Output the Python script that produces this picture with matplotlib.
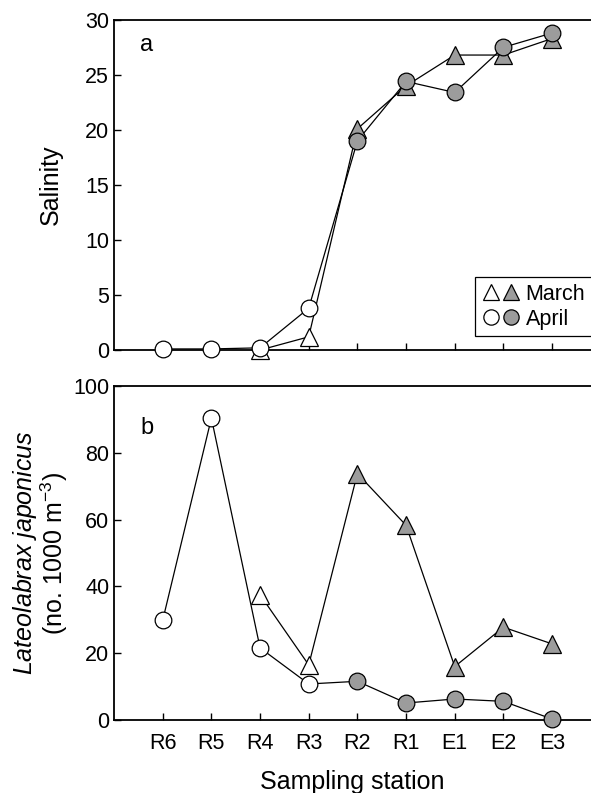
import numpy as np
import matplotlib
matplotlib.use("Agg")
import matplotlib.pyplot as plt
from matplotlib.lines import Line2D
from matplotlib.legend_handler import HandlerTuple

plt.rcParams['font.family'] = ['Liberation Sans', 'DejaVu Sans']
plt.rcParams['mathtext.fontset'] = 'custom'
plt.rcParams['mathtext.rm'] = 'Liberation Sans'
plt.rcParams['mathtext.it'] = 'Liberation Sans:italic'

# stations along the estuary (upstream -> sea)
stations = ["R6", "R5", "R4", "R3", "R2", "R1", "E1", "E2", "E3"]
open_stations = ["R6", "R5", "R4", "R3"]   # drawn with open symbols

# March sampled R4..E3, April R6..E3
march_stations = ["R4", "R3", "R2", "R1", "E1", "E2", "E3"]
april_stations = stations

march_salinity = [0.0, 1.2, 20.1, 24.0, 26.8, 26.8, 28.3]
april_salinity = [0.1, 0.1, 0.2, 3.8, 19.0, 24.4, 23.4, 27.5, 28.8]

march_density = [37.5, 16.5, 73.8, 58.3, 16.0, 27.8, 22.8]
april_density = [29.9, 90.4, 21.6, 10.8, 11.6, 5.1, 6.3, 5.6, 0.3]

gray = "#9c9c9c"


def draw_series(ax, names, values, marker, ms):
    x = np.array([stations.index(n) for n in names])
    y = np.array(values)
    is_open = np.array([n in open_stations for n in names])
    ax.plot(x, y, '-', color='black', lw=0.9, zorder=2, clip_on=False)
    ax.plot(x[is_open], y[is_open], linestyle='none', marker=marker, ms=ms,
            mfc='white', mec='black', mew=0.9, zorder=3, clip_on=False)
    ax.plot(x[~is_open], y[~is_open], linestyle='none', marker=marker, ms=ms,
            mfc=gray, mec='black', mew=0.9, zorder=3, clip_on=False)


fig = plt.figure(figsize=(5.91, 7.93), dpi=100)
ax1 = fig.add_axes([0.193, 0.5586, 0.807, 0.4164])
ax2 = fig.add_axes([0.193, 0.092, 0.807, 0.4212])

draw_series(ax1, march_stations, march_salinity, '^', 13)
draw_series(ax1, april_stations, april_salinity, 'o', 12)
draw_series(ax2, march_stations, march_density, '^', 13)
draw_series(ax2, april_stations, april_density, 'o', 12)

for ax in (ax1, ax2):
    ax.set_xlim(-1.0, 8.8)
    ax.set_xticks(range(len(stations)))
    ax.spines['right'].set_visible(False)
    for s in ('left', 'bottom', 'top'):
        ax.spines[s].set_linewidth(1.3)
    ax.tick_params(direction='in', length=5, width=1, labelsize=15.5)

ax1.set_ylim(0, 30)
ax1.set_yticks([0, 5, 10, 15, 20, 25, 30])
ax1.set_xticklabels([])
ax1.set_ylabel("Salinity", fontsize=18, labelpad=16)
ax1.text(0.055, 0.905, "a", transform=ax1.transAxes, fontsize=17)

ax2.set_ylim(0, 100)
ax2.set_yticks([0, 20, 40, 60, 80, 100])
ax2.set_xticklabels(stations)
ax2.tick_params(axis='x', pad=9)
ax2.set_ylabel("$\\mathit{Lateolabrax\\ japonicus}$\n(no. 1000 m$^{-3}$)",
               fontsize=18, labelpad=2, linespacing=1.0)
ax2.set_xlabel("Sampling station", fontsize=18, labelpad=12)
ax2.text(0.055, 0.855, "b", transform=ax2.transAxes, fontsize=17)

def leg_marker(marker, face, ms):
    return Line2D([], [], linestyle='none', marker=marker, ms=ms,
                  mfc=face, mec='black', mew=0.9)

handles = [(leg_marker('^', 'white', 12), leg_marker('^', gray, 12)),
           (leg_marker('o', 'white', 11), leg_marker('o', gray, 11))]
leg = ax1.legend(handles, ["March", "April"],
                 handler_map={tuple: HandlerTuple(ndivide=None, pad=0.1)},
                 loc='upper left', bbox_to_anchor=(0.757, 0.221),
                 fontsize=15.5, frameon=True, fancybox=False, framealpha=1,
                 edgecolor='black', handlelength=1.8, handletextpad=0.25,
                 borderpad=0.3, labelspacing=0.2, borderaxespad=0)
leg.get_frame().set_linewidth(0.9)

fig.savefig("out.png", dpi=100)
